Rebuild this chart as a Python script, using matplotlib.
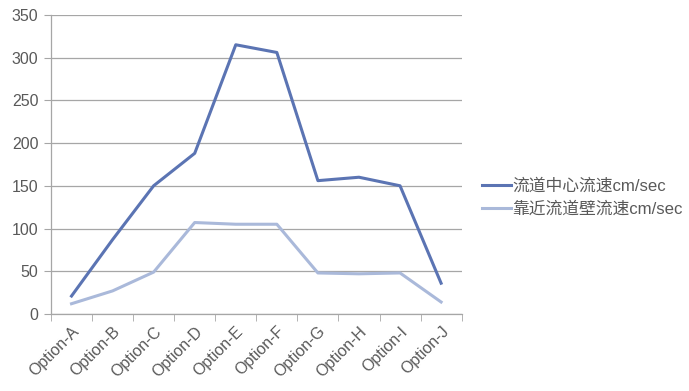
import matplotlib

matplotlib.use("Agg")

import matplotlib.pyplot as plt

categories = ["Option-A", "Option-B", "Option-C", "Option-D", "Option-E",
              "Option-F", "Option-G", "Option-H", "Option-I", "Option-J"]
center_speed = [21, 87, 150, 188, 315, 306, 156, 160, 150, 36]
wall_speed = [12, 27, 49, 107, 105, 105, 48, 47, 48, 14]
series_labels = ["流道中心流速cm/sec", "靠近流道壁流速cm/sec"]
y_ticks = [0, 50, 100, 150, 200, 250, 300, 350]

plt.rcParams["font.family"] = ["Liberation Sans", "Noto Sans CJK SC", "DejaVu Sans"]

text_color = "#595959"
grid_color = "#A6A6A6"

fig = plt.figure(figsize=(6.89, 3.91), dpi=100)
ax = fig.add_axes([0.074, 0.197, 0.596, 0.765])

x = list(range(len(categories)))
ax.plot(x, center_speed, color="#5B74B3", linewidth=2.2, label=series_labels[0],
        solid_joinstyle="round")
ax.plot(x, wall_speed, color="#AAB9DA", linewidth=2.2, label=series_labels[1],
        solid_joinstyle="round")

ax.set_xlim(-0.5, len(categories) - 0.5)
ax.set_ylim(0, 350)
ax.set_yticks(y_ticks)
ax.yaxis.grid(True, color=grid_color, linewidth=0.9)
ax.set_axisbelow(True)

ax.set_xticks(x)
ax.set_xticklabels(categories, rotation=45, ha="right", rotation_mode="anchor")
ax.set_xticks([i - 0.5 for i in range(len(categories) + 1)], minor=True)
ax.tick_params(axis="x", which="major", length=0, pad=7, labelsize=11.5,
               labelcolor=text_color)
ax.tick_params(axis="x", which="minor", length=5, color=grid_color, direction="out")
ax.tick_params(axis="y", length=5, color=grid_color, pad=4, labelsize=11.5,
               labelcolor=text_color)

for side in ["top", "right"]:
    ax.spines[side].set_visible(False)
for side in ["left", "bottom"]:
    ax.spines[side].set_color(grid_color)
    ax.spines[side].set_linewidth(0.9)

ax.legend(loc="center left", bbox_to_anchor=(1.025, 0.39), frameon=False,
          fontsize=12.1, labelcolor=text_color, handlelength=1.7,
          handletextpad=0.12, labelspacing=0.45, borderaxespad=0.2)

fig.savefig("out.png", dpi=100)
plt.close(fig)
